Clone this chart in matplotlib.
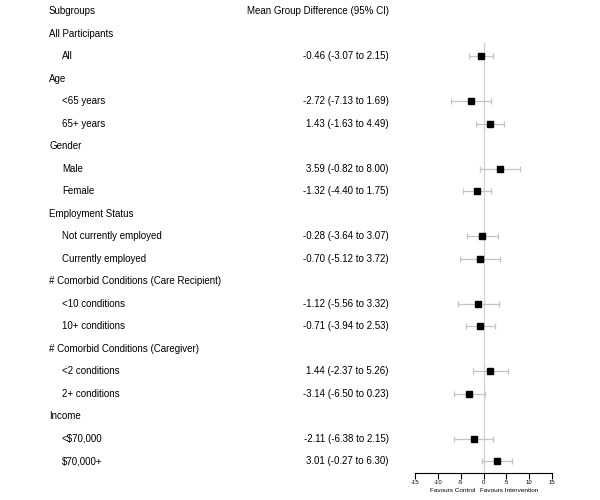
import matplotlib
matplotlib.use("Agg")
import matplotlib.pyplot as plt
from matplotlib.transforms import blended_transform_factory

plt.rcParams['font.family'] = ['Liberation Sans', 'DejaVu Sans']

# rows top to bottom: (label, is_header)
labels = ["All Participants", "All",
          "Age", "<65 years", "65+ years",
          "Gender", "Male", "Female",
          "Employment Status", "Not currently employed", "Currently employed",
          "# Comorbid Conditions (Care Recipient)", "<10 conditions", "10+ conditions",
          "# Comorbid Conditions (Caregiver)", "<2 conditions", "2+ conditions",
          "Income", "<$70,000", "$70,000+"]
is_header = [True, False,
             True, False, False,
             True, False, False,
             True, False, False,
             True, False, False,
             True, False, False,
             True, False, False]

# estimates for the non-header rows, in order
means = [-0.46, -2.72, 1.43, 3.59, -1.32, -0.28, -0.70, -1.12, -0.71, 1.44, -3.14, -2.11, 3.01]
lower = [-3.07, -7.13, -1.63, -0.82, -4.40, -3.64, -5.12, -5.56, -3.94, -2.37, -6.50, -6.38, -0.27]
upper = [2.15, 1.69, 4.49, 8.00, 1.75, 3.07, 3.72, 3.32, 2.53, 5.26, 0.23, 2.15, 6.30]

xticks = [-15, -10, -5, 0, 5, 10, 15]

fig = plt.figure(figsize=(6, 5), dpi=100)
ax = fig.add_axes([415 / 600, 1 - 473 / 500, 137 / 600, 473 / 500])
ax.set_xlim(-15, 15)
ax.set_ylim(20.53, -0.49)

for s in ["top", "right", "left"]:
    ax.spines[s].set_visible(False)
ax.spines["bottom"].set_linewidth(0.8)
ax.set_yticks([])
ax.set_xticks(xticks)
ax.set_xticklabels([str(t) for t in xticks], fontsize=4.3)
ax.tick_params(axis="x", length=4, width=0.8, pad=1)

ax.plot([0, 0], [1.4, 20.53], color="#d0d0d0", lw=0.9, zorder=0)

tr = blended_transform_factory(fig.transFigure, ax.transData)
fs = 7.0
ax.text(49 / 600, 0, "Subgroups", transform=tr, fontsize=fs, va="center", ha="left")
ax.text(389 / 600, 0, "Mean Group Difference (95% CI)", transform=tr, fontsize=fs,
        va="center", ha="right")

k = 0
for i, (lab, h) in enumerate(zip(labels, is_header)):
    row = i + 1
    if h:
        ax.text(49 / 600, row, lab, transform=tr, fontsize=fs, va="center", ha="left",
                parse_math=False)
        continue
    ax.text(62 / 600, row, lab, transform=tr, fontsize=fs, va="center", ha="left",
            parse_math=False)
    est = "%.2f (%.2f to %.2f)" % (means[k], lower[k], upper[k])
    ax.text(389 / 600, row, est, transform=tr, fontsize=fs, va="center", ha="right")
    ax.errorbar(means[k], row, xerr=[[means[k] - lower[k]], [upper[k] - means[k]]],
                fmt="none", ecolor="#c4c4c4", elinewidth=0.9, capsize=2.5, capthick=0.9)
    ax.plot(means[k], row, marker="s", color="black", markersize=4.5, linestyle="none")
    k += 1

trf = blended_transform_factory(ax.transData, fig.transFigure)
ax.text(-6.8, 1 - 490 / 500, "Favours Control", transform=trf,
        fontsize=4.6, ha="center", va="center")
ax.text(5.7, 1 - 490 / 500, "Favours Intervention", transform=trf,
        fontsize=4.6, ha="center", va="center")

fig.savefig("out.png", dpi=100)
